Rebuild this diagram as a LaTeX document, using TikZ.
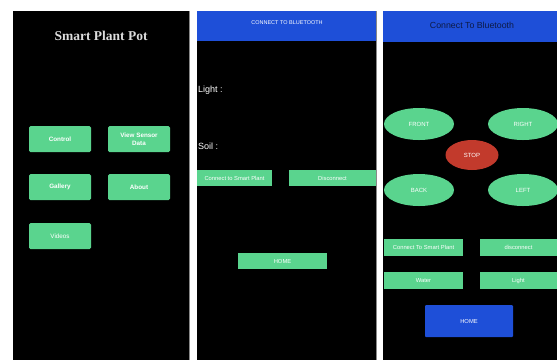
\documentclass[tikz,border=0pt]{standalone}
\usepackage{fontspec}
\setmainfont{Liberation Sans}
\newfontfamily\titlefont{Liberation Serif}
\usetikzlibrary{shapes.geometric}
\definecolor{btngreen}{HTML}{5AD48E}
\definecolor{hdrblue}{HTML}{1E4FD8}
\definecolor{stopred}{HTML}{C23A2C}
\definecolor{navytext}{HTML}{0D1A46}
\definecolor{titlegray}{HTML}{DDDDDD}
\definecolor{edgegray}{HTML}{888888}
\tikzset{
  box/.style={rectangle, inner sep=0pt, outer sep=0pt},
  panel/.style={box, fill=black},
  header/.style={box, fill=hdrblue},
  gbtn/.style={box, fill=btngreen, text=white, font=\fontsize{5.8}{7}\selectfont, align=center},
  rbtn/.style={gbtn, rounded corners=1.5pt, font=\bfseries\fontsize{6.3}{7.5}\selectfont},
  oval/.style={ellipse, inner sep=0pt, fill=btngreen, text=white, font=\fontsize{6}{7}\selectfont},
  lbl/.style={inner sep=0pt, text=white, anchor=west, font=\fontsize{9}{10}\selectfont},
}
\begin{document}
\begin{tikzpicture}[x=1pt,y=-1pt]
\useasboundingbox[fill=white] (0,0) rectangle (557,360);
% panels
\node[panel, minimum width=176pt, minimum height=349pt] (p1) at (101,185.5) {};
\node[panel, minimum width=179pt, minimum height=349pt] (p2) at (286.5,185.5) {};
\node[panel, minimum width=174pt, minimum height=349pt] (p3) at (470,185.5) {};
\draw[edgegray, line width=0.8pt] (p1.north east) -- (p1.south east);
\draw[edgegray, line width=0.8pt] (p2.north east) -- (p2.south east);
% panel 1
\node[inner sep=0pt, text=titlegray, font=\titlefont\bfseries\fontsize{13.5}{15}\selectfont] (title) at (101,36) {Smart Plant Pot};
\node[rbtn, minimum width=62pt, minimum height=26pt] (control) at (60,139) {Control};
\node[rbtn, minimum width=62pt, minimum height=26pt] (sensor) at (139,139) {View Sensor\\Data};
\node[rbtn, minimum width=62pt, minimum height=26pt] (gallery) at (60,187) {Gallery};
\node[rbtn, minimum width=62pt, minimum height=26pt] (about) at (139,187) {About};
\node[rbtn, minimum width=62pt, minimum height=26pt, font=\fontsize{6.3}{7.5}\selectfont] (videos) at (60,236) {Videos};
% panel 2
\node[header, minimum width=179pt, minimum height=30pt] (h2) at (286.5,26) {};
\node[inner sep=0pt, text=white, font=\fontsize{5.5}{6}\selectfont] (h2t) at (287,23) {CONNECT TO BLUETOOTH};
\node[lbl] (light) at (198,90) {Light :};
\node[lbl] (soil) at (198,146) {Soil :};
\node[gbtn, minimum width=75pt, minimum height=16pt] (conn2) at (234.5,178) {Connect to Smart Plant};
\node[gbtn, minimum width=87pt, minimum height=16pt] (disc2) at (332.5,178) {Disconnect};
\node[gbtn, minimum width=89pt, minimum height=16pt] (home2) at (282.5,261) {HOME};
% panel 3
\node[header, minimum width=174pt, minimum height=31pt] (h3) at (470,26.5) {};
\node[inner sep=0pt, text=navytext, font=\fontsize{8.8}{10}\selectfont] (h3t) at (472,25) {Connect To Bluetooth};
\node[oval, minimum width=70pt, minimum height=32pt] (front) at (419,124) {FRONT};
\node[oval, minimum width=70pt, minimum height=32pt] (right) at (523,124) {RIGHT};
\node[oval, fill=stopred, minimum width=53pt, minimum height=30pt] (stop) at (472,155) {STOP};
\node[oval, minimum width=70pt, minimum height=32pt] (back) at (419,190) {BACK};
\node[oval, minimum width=70pt, minimum height=32pt] (left) at (523,190) {LEFT};
\node[gbtn, minimum width=79pt, minimum height=17pt] (conn3) at (423.5,247.5) {Connect To Smart Plant};
\node[gbtn, minimum width=77pt, minimum height=17pt] (disc3) at (518.5,247.5) {disconnect};
\node[gbtn, minimum width=79pt, minimum height=17pt] (water) at (423.5,280.5) {Water};
\node[gbtn, minimum width=77pt, minimum height=17pt] (light3) at (518.5,280.5) {Light};
\node[box, fill=hdrblue, text=white, rounded corners=1pt, font=\fontsize{5.8}{7}\selectfont, minimum width=88pt, minimum height=32pt] (home3) at (469,321) {HOME};
\end{tikzpicture}
\end{document}
